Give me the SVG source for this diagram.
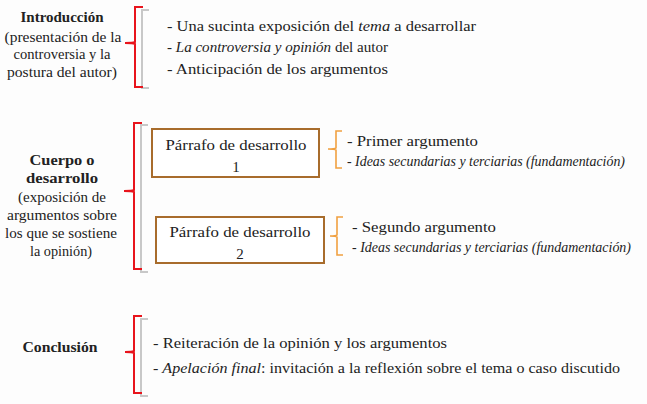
<svg xmlns="http://www.w3.org/2000/svg" width="647" height="404" viewBox="0 0 647 404" font-family="Liberation Serif, Times New Roman, serif">
<style>
.lbl-head{font-weight:bold;font-size:14px;text-anchor:middle;fill:#222}
.lbl-side{font-size:14px;text-anchor:middle;fill:#222}
.lbl-body{font-size:15px;fill:#222}
.lbl-small{font-size:14px;fill:#222}
.lbl-mid{text-anchor:middle}
.lbl-it{font-style:italic}
.br-red{fill:none;stroke:#e8141c;stroke-width:2}
.br-gray{fill:none;stroke:#c8c8c8;stroke-width:2}
.br-orange{fill:none;stroke:#f0a040;stroke-width:1.6}
.node-box{fill:#fff;stroke:#a86c2c;stroke-width:2}
</style>
<rect width="647" height="404" fill="#fdfdfd"/>
<g id="connectors">
<path class="br-gray" d="M149,10 H142 V88 H149"/>
<path class="br-red" d="M143,7 H135 V42 Q133,43 125,43 Q133,43 135,44 V87 H143"/>
<path class="br-gray" d="M148,125 H141 V272 H148"/>
<path class="br-red" d="M142,123 H134 V190 Q132,191 124,191 Q132,191 134,192 V269 H142"/>
<path class="br-gray" d="M148,319 H141 V396 H148"/>
<path class="br-red" d="M142,316 H134 V351 Q132,352 125,352 Q132,352 134,353 V393 H142"/>
<path class="br-orange" d="M342,131 H336 V148 Q335,149 328,149 Q335,149 336,150 V168 H342"/>
<path class="br-orange" d="M343,217 H337 V235 Q336,236 330,236 Q336,236 337,237 V255 H343"/>
</g>
<g id="introduccion">
<text class="lbl-head" x="62" y="22" textLength="83" lengthAdjust="spacingAndGlyphs">Introducción</text>
<text class="lbl-side" x="63" y="42" textLength="117" lengthAdjust="spacingAndGlyphs">(presentación de la</text>
<text class="lbl-side" x="62" y="59" textLength="97" lengthAdjust="spacingAndGlyphs">controversia y la</text>
<text class="lbl-side" x="62" y="77" textLength="110" lengthAdjust="spacingAndGlyphs">postura del autor)</text>
</g>
<g id="intro-items">
<text class="lbl-body" x="167" y="31" textLength="309" lengthAdjust="spacingAndGlyphs">- Una sucinta exposición del <tspan class="lbl-it">tema</tspan> a desarrollar</text>
<text class="lbl-body" x="167" y="52" textLength="221" lengthAdjust="spacingAndGlyphs">-  <tspan class="lbl-it">La controversia y opinión</tspan> del autor</text>
<text class="lbl-body" x="167" y="74" textLength="221" lengthAdjust="spacingAndGlyphs">- Anticipación de los argumentos</text>
</g>
<g id="cuerpo">
<text class="lbl-head" x="62" y="165" textLength="65" lengthAdjust="spacingAndGlyphs">Cuerpo o</text>
<text class="lbl-head" x="62" y="183" textLength="72" lengthAdjust="spacingAndGlyphs">desarrollo</text>
<text class="lbl-side" x="62" y="202" textLength="88" lengthAdjust="spacingAndGlyphs">(exposición de</text>
<text class="lbl-side" x="62" y="220" textLength="110" lengthAdjust="spacingAndGlyphs">argumentos sobre</text>
<text class="lbl-side" x="61" y="238" textLength="112" lengthAdjust="spacingAndGlyphs">los que se sostiene</text>
<text class="lbl-side" x="61" y="256" textLength="62" lengthAdjust="spacingAndGlyphs">la opinión)</text>
</g>
<g id="parrafo1">
<rect class="node-box" x="152" y="129" width="167" height="48"/>
<text class="lbl-body lbl-mid" x="236" y="150" textLength="141" lengthAdjust="spacingAndGlyphs">Párrafo de desarrollo</text>
<text class="lbl-body lbl-mid" x="236" y="172">1</text>
</g>
<g id="parrafo2">
<rect class="node-box" x="156" y="217" width="168" height="46"/>
<text class="lbl-body lbl-mid" x="240" y="237" textLength="141" lengthAdjust="spacingAndGlyphs">Párrafo de desarrollo</text>
<text class="lbl-body lbl-mid" x="240" y="259">2</text>
</g>
<g id="arg1">
<text class="lbl-body" x="347" y="146" textLength="131" lengthAdjust="spacingAndGlyphs">- Primer argumento</text>
<text class="lbl-small lbl-it" x="347" y="166" textLength="278" lengthAdjust="spacingAndGlyphs">- Ideas secundarias y terciarias (fundamentación)</text>
</g>
<g id="arg2">
<text class="lbl-body" x="352" y="232" textLength="144" lengthAdjust="spacingAndGlyphs">- Segundo argumento</text>
<text class="lbl-small lbl-it" x="352" y="252" textLength="279" lengthAdjust="spacingAndGlyphs">- Ideas secundarias y terciarias (fundamentación)</text>
</g>
<g id="conclusion">
<text class="lbl-head" x="60" y="352" textLength="75" lengthAdjust="spacingAndGlyphs">Conclusión</text>
</g>
<g id="conclusion-items">
<text class="lbl-body" x="153" y="348" textLength="294" lengthAdjust="spacingAndGlyphs">- Reiteración de la opinión y los argumentos</text>
<text class="lbl-body" x="153" y="373" textLength="467" lengthAdjust="spacingAndGlyphs">- <tspan class="lbl-it">Apelación final</tspan>: invitación a la reflexión sobre el tema o caso discutido</text>
</g>
</svg>
